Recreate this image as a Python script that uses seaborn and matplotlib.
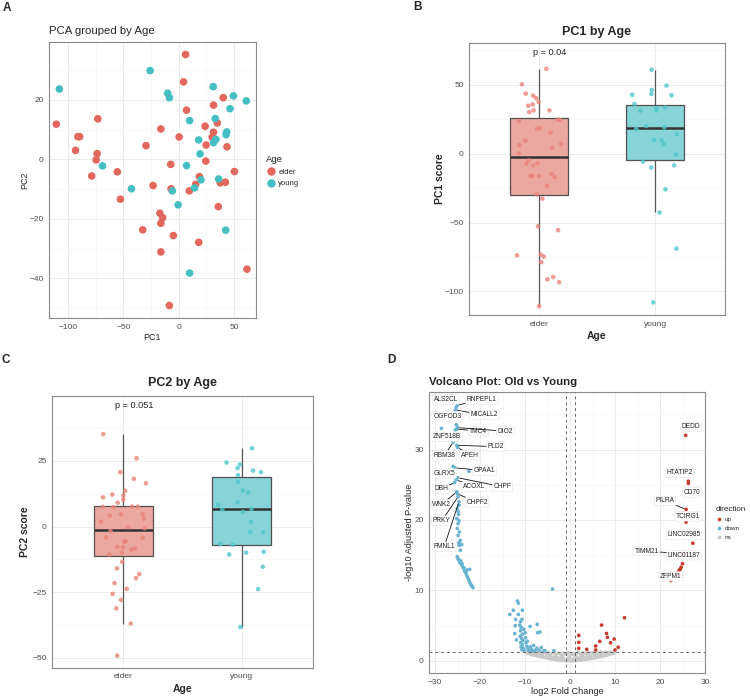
import numpy as np
import pandas as pd
import matplotlib
matplotlib.use("Agg")
import matplotlib.pyplot as plt
import seaborn as sns
from matplotlib.ticker import MultipleLocator

# ---------------- Data: PCA scores ----------------
elder_pc1 = [6.1, 4.3, 40.2, 31.4, 7.0, -73.2, -110.7, 23.8, 34.8, -16.2, -91.2, -89.6, 31.4, 0.3,
             30.2, 24.7, 43.6, -29.6, -93.3, -73.8, -74.7, 24.4, -7.3, -78.7, -55.5, 50.3, 18.6, 15.2,
             -23.2, -7.0, 9.5, 37.5, 42.1, -52.7, 35.7, -17.1, -14.6, -16.2, -32.6, -4.9, 18.0, -16.2,
             61.6, -8.5]
elder_pc2 = [35.2, 26.0, 20.7, 18.2, 16.5, 13.6, 11.8, 11.1, 12.2, 10.2, 7.6, 7.6, 9.1, 7.5,
             7.4, 4.8, 4.2, 4.6, 3.0, 1.9, -0.2, -0.6, -1.7, -5.6, -4.2, -4.1, -5.8, -8.4,
             -8.8, -9.9, -10.6, -7.9, -7.7, -13.4, -15.9, -18.1, -19.6, -21.5, -23.7, -25.6, -27.9, -31.1,
             -36.9, -49.1]
young_pc1 = [-107.9, -25.9, -10.1, -8.5, 31.1, 49.4, 61.0, 46.3, 9.8, 32.9, 43.3, 42.7, 18.0,
             33.5, 31.4, 19.2, -68.9, 7.0, 36.0, 20.1, -42.7, -5.8, 14.3, -0.6, 42.4, 9.8]
young_pc2 = [23.6, 29.8, 22.2, 20.7, 24.4, 21.3, 19.6, 17.0, 13.0, 13.7, 9.2, 8.3, 6.5,
             6.7, 5.6, 1.8, -2.2, -2.1, -6.6, -6.9, -9.9, -10.6, -9.6, -15.3, -23.8, -38.2]
age_levels = ["elder", "young"]
p_pc1 = "p = 0.04"
p_pc2 = "p = 0.051"

# ---------------- Data: volcano ----------------
down_fc = [-24.7, -25.1, -24.9, -24.8, -25.2, -24.7, -24.9, -25.1, -24.6, -24.9, -24.4, -24.7, -24.1,
           -24.7, -24.4, -25.1, -24.9, -24.7, -24.5, -24.4, -24.1, -23.8, -23.6, -23.5, -22.9, -22.3,
           -23.2, -23.0, -22.8, -22.6, -22.4, -22.2, -22.0, -21.8, -21.6, -24.0, -23.4, -24.3,
           -28.6, -22.5,
           -3.9, -11.7, -11.5, -12.6, -10.6, -13.4, -11.5, -12.1, -10.7, -12.2, -11.2, -8.9, -7.3,
           -6.7, -7.2, -12.3, -11.0, -10.9, -11.0, -10.6, -11.1, -10.8, -10.5, -11.0, -10.6, -10.9,
           -10.4, -10.7, -10.2, -9.8, -9.6, -9.4, -9.9, -9.2, -8.8, -8.5, -8.1, -7.8, -7.4, -6.9,
           -6.4, -5.6, -3.6, -11.9, -10.3, -10.0, -9.5, -8.4, -5.9]
down_p = [22.1, 21.6, 21.2, 20.8, 20.2, 19.9, 19.5, 18.8, 18.3, 17.8, 17.1, 16.8, 16.5,
          16.4, 15.7, 14.8, 14.5, 14.3, 14.0, 13.9, 13.6, 13.3, 13.2, 12.9, 12.9, 13.0,
          12.5, 12.2, 11.9, 11.6, 11.3, 11.0, 10.8, 10.6, 10.4, 13.8, 12.7, 14.2,
          33.0, 26.9,
          10.2, 8.5, 8.2, 7.2, 7.2, 6.6, 6.6, 5.9, 5.9, 5.0, 5.1, 4.9, 5.2,
          4.1, 4.0, 3.9, 5.6, 4.8, 4.3, 3.8, 3.5, 3.2, 2.9, 2.6, 2.3, 2.0,
          1.8, 1.6, 1.5, 2.6, 2.1, 1.8, 3.3, 1.5, 2.0, 1.6, 2.2, 1.5, 1.8, 1.5,
          1.9, 1.46, 1.46, 3.0, 4.5, 4.0, 2.8, 1.4, 1.4]
up_fc = [25.0, 24.7, 24.3, 24.0, 23.8, 23.6, 24.5,
         1.93, 1.93, 1.93, 3.7, 5.7, 5.7, 6.6, 7.0, 8.1, 8.3, 9.0, 9.8, 10.0, 10.7, 12.1]
up_p = [13.8, 13.3, 12.9, 12.6, 12.3, 12.0, 13.0,
        3.63, 2.64, 1.79, 1.65, 2.12, 1.56, 2.78, 5.09, 3.91, 3.35, 2.59, 3.11, 1.56, 1.94, 6.13]
ns_fc = [-9.8, -9.2, -8.7, -8.1, -7.6, -7.0, -6.5, -5.9, -5.3, -4.8, -4.2, -3.7, -3.1, -2.6, -2.0,
         -1.5, -0.9, -0.4, 0.2, 0.7, 1.3, 1.8, 2.4, 2.9, 3.5, 4.0, 4.6, 5.1, 5.7, 6.2, 6.8, 7.3,
         7.9, 8.4, 9.0, 9.5,
         -9.5, -8.9, -8.4, -7.8, -7.3, -6.8, -6.2, -5.6, -5.1, -4.5, -4.0, -3.4, -2.9, -2.3, -1.8,
         -1.2, -0.7, -0.1, 0.4, 1.0, 1.5, 2.1, 2.6, 3.2, 3.7, 4.3, 4.8, 5.4, 5.9, 6.5, 7.0, 7.6,
         8.1, 8.7, 9.2, 9.8,
         -9.0, -8.0, -7.1, -6.1, -5.2, -4.4, -3.6, -2.8, -2.1, -1.4, -0.6, 0.1, 0.9, 1.6, 2.3,
         3.0, 3.8, 4.5, 5.3, 6.0, 6.9, 7.7, 8.6, 9.4,
         -6.6, -4.9, -3.3, -1.7, -0.2, 1.2, 2.8, 4.2, 5.6, 7.2]
ns_p = [1.25, 1.22, 1.18, 1.24, 1.15, 1.20, 1.12, 1.26, 1.08, 1.19, 1.02, 1.23, 0.95, 1.10, 0.88,
        1.05, 0.92, 1.17, 0.85, 1.01, 0.97, 1.21, 0.90, 1.14, 1.06, 1.25, 1.11, 1.18, 1.22, 1.09,
        1.27, 1.16, 1.24, 1.20, 1.26, 1.23,
        1.05, 0.98, 0.86, 0.80, 0.71, 0.63, 0.55, 0.47, 0.40, 0.33, 0.27, 0.21, 0.16, 0.12, 0.08,
        0.05, 0.03, 0.02, 0.03, 0.04, 0.07, 0.10, 0.14, 0.19, 0.24, 0.30, 0.36, 0.43, 0.50, 0.58,
        0.66, 0.74, 0.83, 0.92, 1.01, 1.12,
        1.12, 1.01, 0.92, 0.84, 0.73, 0.65, 0.55, 0.48, 0.41, 0.33, 0.30, 0.27, 0.35, 0.40, 0.46,
        0.58, 0.62, 0.71, 0.79, 0.88, 0.95, 1.04, 1.10, 1.18,
        1.00, 0.88, 0.75, 0.62, 0.58, 0.66, 0.78, 0.90, 0.98, 1.08]

lab_gene = ["ALS2CL", "RNPEPL1", "MICALL2", "OGFOD3", "TMC4", "DIO2", "ZNF518B", "PLD2", "RBM38",
            "APEH", "GPAA1", "GLRX5", "DBH", "ACOXL", "CHPF", "WNK2", "CHPF2", "PRKY", "FMNL1",
            "DEDD", "HTATIP2", "CD70", "PILRA", "TCIRG1", "LINC02985", "TIMM21", "LINC01187", "ZFPM1"]
lab_fc = [-25.3, -25.0, -25.5, -25.3, -25.2, -25.0, -25.5, -25.2, -26.0,
          -25.0, -25.6, -26.0, -25.7, -25.3, -25.0, -25.2, -25.0, -24.9, -24.7,
          25.7, 26.3, 26.3, 25.8, 25.8, 27.3, 25.0, 25.3, 22.4]
lab_p = [36.0, 36.3, 35.6, 33.5, 32.9, 33.1, 32.8, 30.6, 31.0,
         30.3, 27.4, 27.6, 25.3, 25.7, 26.0, 24.0, 23.7, 23.3, 22.6,
         32.0, 25.5, 25.2, 21.5, 19.7, 16.7, 15.2, 15.0, 11.4]
lab_dir = ["down"] * 19 + ["up"] * 9
direction_levels = ["up", "down", "ns"]

# label placement (text anchor positions, data units)
label_pos = {
    "ALS2CL": (-27.6, 37.1), "RNPEPL1": (-19.6, 37.1), "MICALL2": (-19.1, 34.9),
    "OGFOD3": (-27.3, 34.7), "TMC4": (-20.4, 32.6), "DIO2": (-14.4, 32.6),
    "ZNF518B": (-27.3, 31.8), "PLD2": (-16.5, 30.4), "RBM38": (-27.9, 29.2),
    "APEH": (-22.3, 29.2), "GPAA1": (-19.0, 27.0), "GLRX5": (-27.9, 26.6),
    "DBH": (-28.7, 24.4), "ACOXL": (-21.3, 24.7), "CHPF": (-15.0, 24.7),
    "WNK2": (-28.5, 22.2), "CHPF2": (-20.7, 22.5), "PRKY": (-28.5, 19.9),
    "FMNL1": (-28.0, 16.2),
    "DEDD": (26.9, 33.2), "HTATIP2": (24.4, 26.7), "CD70": (27.2, 23.9),
    "PILRA": (21.1, 22.7), "TCIRG1": (26.3, 20.5), "LINC02985": (25.3, 17.9),
    "TIMM21": (17.0, 15.6), "LINC01187": (25.4, 15.0), "ZFPM1": (22.4, 12.0),
}

# ---------------- Styling ----------------
sns.set_theme(style="whitegrid")
plt.rcParams["font.family"] = ["Liberation Sans", "DejaVu Sans"]

col_elder = "#E2675D"
col_young = "#45BEC3"
pal_pts = {"elder": col_elder, "young": col_young}
pal_box = {"elder": "#EAA8A0", "young": "#86D4D7"}
pal_strip = {"elder": "#E8847A", "young": "#52C6CB"}
pal_dir = {"up": "#C93A2D", "down": "#69B3D2", "ns": "#C9C9C9"}

W, H = 750, 697
fig = plt.figure(figsize=(W / 100, H / 100), dpi=100)
fig.patch.set_facecolor("white")


def fx(px):
    return px / W


def fy(py):
    return 1 - py / H


def rect(x0, y0, x1, y1):
    return [fx(x0), fy(y1), (x1 - x0) / W, (y1 - y0) / H]


def style(ax):
    ax.set_facecolor("white")
    for s in ax.spines.values():
        s.set_visible(True)
        s.set_color("#8A8A8A")
        s.set_linewidth(0.8)
    ax.grid(True, which="major", color="#EBEBEB", linewidth=0.7)
    ax.grid(True, which="minor", color="#F5F5F5", linewidth=0.45)
    ax.set_axisbelow(True)
    ax.tick_params(which="major", length=2.5, width=0.6, color="#555555", labelsize=6,
                   labelcolor="#4D4D4D", pad=1.5)
    ax.tick_params(which="minor", length=0)
    ax.set_xlabel("")
    ax.set_ylabel("")


# ---------------- Panel A ----------------
df_pca = pd.DataFrame({
    "PC1": elder_pc1 + young_pc1,
    "PC2": elder_pc2 + young_pc2,
    "Age": ["elder"] * len(elder_pc1) + ["young"] * len(young_pc1),
})
axA = fig.add_axes(rect(49.3, 41.7, 255.7, 318.3))
sns.scatterplot(data=df_pca, x="PC1", y="PC2", hue="Age", hue_order=age_levels,
                palette=pal_pts, s=30, linewidth=0, ax=axA, legend=True)
axA.set_xlim(-117, 69.5)
axA.set_ylim(-53.4, 39.5)
axA.xaxis.set_major_locator(MultipleLocator(50))
axA.xaxis.set_minor_locator(MultipleLocator(25))
axA.yaxis.set_major_locator(MultipleLocator(20))
axA.yaxis.set_minor_locator(MultipleLocator(10))
style(axA)
handles, labels = axA.get_legend_handles_labels()
axA.legend(handles, labels, title="Age", loc="upper left", bbox_to_anchor=(fx(266), fy(155)),
           bbox_transform=fig.transFigure, frameon=False, fontsize=5.6, title_fontsize=6.8,
           handletextpad=0.2, handlelength=1.4, labelspacing=0.55, alignment="left",
           markerscale=1.1, borderaxespad=0, borderpad=0)
fig.text(fx(49), fy(31), "PCA grouped by Age", fontsize=8.2, ha="left", va="center")
fig.text(fx(152.5), fy(337), "PC1", fontsize=6.5, ha="center", va="center")
fig.text(fx(25), fy(180), "PC2", fontsize=6.5, ha="center", va="center", rotation=90)


# ---------------- Panels B & C ----------------
def box_panel(ax, values_e, values_y, col, ylim, major, minor, ptxt, py):
    df = pd.DataFrame({
        "Age": ["elder"] * len(values_e) + ["young"] * len(values_y),
        col: values_e + values_y,
    })
    sns.boxplot(data=df, x="Age", y=col, hue="Age", order=age_levels, hue_order=age_levels,
                palette=pal_box, saturation=1, width=0.5, showfliers=False, showcaps=False,
                linecolor="#505050", linewidth=0.9, legend=False, ax=ax,
                medianprops={"color": "#333333", "linewidth": 1.8},
                whiskerprops={"color": "#555555", "linewidth": 0.9})
    np.random.seed(7)
    sns.stripplot(data=df, x="Age", y=col, hue="Age", order=age_levels, hue_order=age_levels,
                  palette=pal_strip, jitter=0.2, size=3.3, alpha=0.8, linewidth=0,
                  legend=False, ax=ax, zorder=4)
    ax.set_xlim(-0.6, 1.6)
    ax.set_ylim(*ylim)
    ax.yaxis.set_major_locator(MultipleLocator(major))
    ax.yaxis.set_minor_locator(MultipleLocator(minor))
    style(ax)
    ax.text(0.095, py, ptxt, fontsize=6.6, ha="center", va="center", color="#222222")


axB = fig.add_axes(rect(469.3, 43.3, 725, 315))
box_panel(axB, elder_pc1, young_pc1, "PC1", (-117.1, 80.1), 50, 25, p_pc1, 73.3)
fig.text(fx(597), fy(31.7), "PC1 by Age", fontsize=9, fontweight="bold", ha="center", va="center")
fig.text(fx(440), fy(179), "PC1 score", fontsize=7.5, fontweight="bold", ha="center",
         va="center", rotation=90)
fig.text(fx(597), fy(336), "Age", fontsize=7.5, fontweight="bold", ha="center", va="center")

axC = fig.add_axes(rect(52.3, 396, 312.7, 667.7))
box_panel(axC, elder_pc2, young_pc2, "PC2", (-53.7, 49.7), 25, 12.5, p_pc2, 46.2)
fig.text(fx(182.5), fy(383.3), "PC2 by Age", fontsize=9, fontweight="bold", ha="center",
         va="center")
fig.text(fx(25), fy(532), "PC2 score", fontsize=7.5, fontweight="bold", ha="center",
         va="center", rotation=90)
fig.text(fx(182.5), fy(689), "Age", fontsize=7.5, fontweight="bold", ha="center", va="center")

# ---------------- Panel D ----------------
df_v = pd.DataFrame({
    "log2FC": ns_fc + down_fc + up_fc + lab_fc,
    "nlp": ns_p + down_p + up_p + lab_p,
    "direction": ["ns"] * len(ns_fc) + ["down"] * len(down_fc) + ["up"] * len(up_fc) + lab_dir,
})
axD = fig.add_axes(rect(429.3, 391.7, 705, 673.3))
sns.scatterplot(data=df_v, x="log2FC", y="nlp", hue="direction", hue_order=direction_levels,
                palette=pal_dir, s=7, linewidth=0, ax=axD, legend=True)
axD.set_xlim(-31.3, 30.0)
axD.set_ylim(-1.75, 38.2)
axD.xaxis.set_major_locator(MultipleLocator(10))
axD.xaxis.set_minor_locator(MultipleLocator(5))
axD.yaxis.set_major_locator(MultipleLocator(10))
axD.yaxis.set_minor_locator(MultipleLocator(5))
style(axD)
for xv in (-1, 1):
    axD.axvline(xv, color="#666666", linestyle=(0, (3, 3)), linewidth=0.7, zorder=1)
axD.axhline(-np.log10(0.05), color="#666666", linestyle=(0, (3, 3)), linewidth=0.7, zorder=1)

fig.canvas.draw()
for g, gx, gy in zip(lab_gene, lab_fc, lab_p):
    tx, ty = label_pos[g]
    p1 = axD.transData.transform((gx, gy))
    p2 = axD.transData.transform((tx, ty))
    dist = np.hypot(*(p1 - p2))
    arrow = dict(arrowstyle="-", color="#111111", lw=0.6, shrinkA=0, shrinkB=1.5) if dist > 14 else None
    axD.annotate(g, xy=(gx, gy), xytext=(tx, ty), fontsize=4.8, ha="center", va="center",
                 color="#222222", arrowprops=arrow, zorder=5,
                 bbox=dict(boxstyle="round,pad=0.18,rounding_size=0.15", fc="white",
                           ec="#E0E0E0", lw=0.4, alpha=0.9))

hD, lD = axD.get_legend_handles_labels()
axD.legend(hD, lD, title="direction", loc="upper left", bbox_to_anchor=(fx(716), fy(506)),
           bbox_transform=fig.transFigure, frameon=False, fontsize=4.6, title_fontsize=5.8,
           handletextpad=0.3, handlelength=1.0, labelspacing=0.55, alignment="left",
           borderaxespad=0, borderpad=0)
fig.text(fx(429.3), fy(381.7), "Volcano Plot: Old vs Young", fontsize=8.2, fontweight="bold",
         ha="left", va="center")
fig.text(fx(567), fy(691), "log2 Fold Change", fontsize=6.6, ha="center", va="center")
fig.text(fx(410), fy(532), "-log10 Adjusted P-value", fontsize=6.6, ha="center", va="center",
         rotation=90)

# ---------------- Panel letters ----------------
for letter, (px, py) in {"A": (7, 8), "B": (418, 7), "C": (6, 360), "D": (391, 360)}.items():
    fig.text(fx(px), fy(py), letter, fontsize=8.5, fontweight="bold", ha="center", va="center")

fig.savefig("out.png", dpi=100, facecolor="white")
